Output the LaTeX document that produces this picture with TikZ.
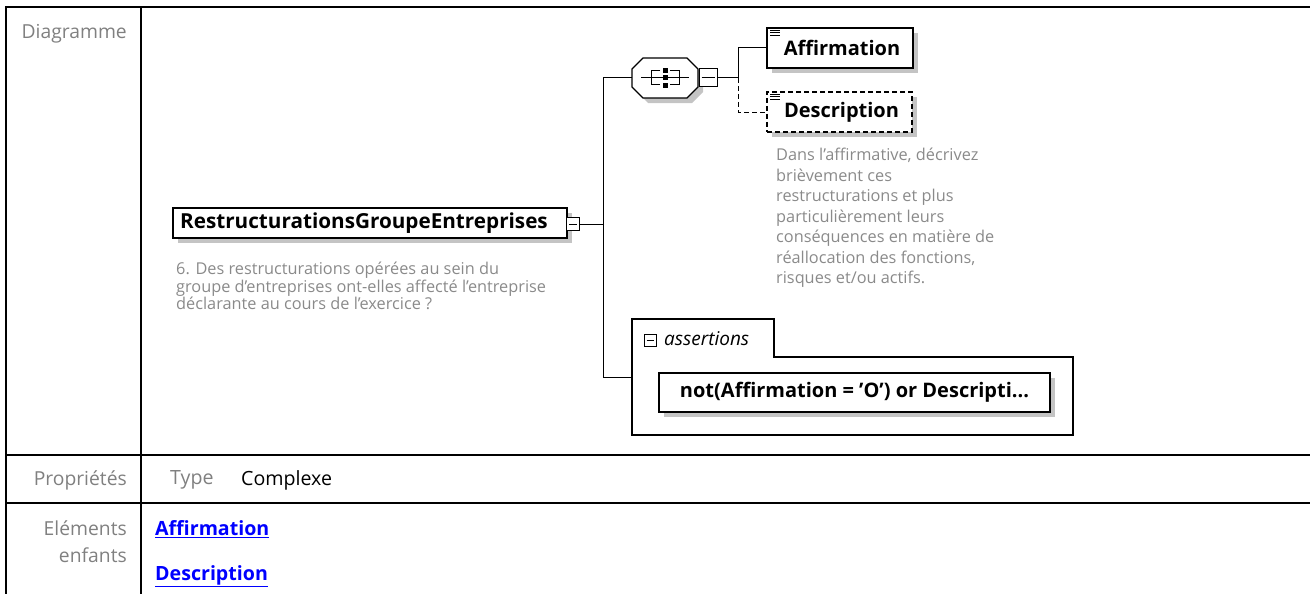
\documentclass[tikz,border=0pt]{standalone}
\usepackage{fontspec}
\setmainfont{Open Sans}
\usetikzlibrary{shadows}

\definecolor{labelgray}{HTML}{808080}
\definecolor{notegray}{HTML}{8A8A8A}
\definecolor{shadowgray}{HTML}{C4C4C4}
\definecolor{linkblue}{HTML}{0000FF}

\tikzset{
  grid line/.style={line width=2pt},
  conn/.style={line width=1pt},
  optdash/.style={dash pattern=on 5pt off 3pt},
  elembox/.style={draw,line width=1.2pt,fill=white,inner sep=0pt,
    font=\fontsize{20}{22}\selectfont\bfseries,
    drop shadow={shadow xshift=5pt,shadow yshift=-5pt,fill=shadowgray,opacity=1}},
  togglebox/.style={draw,line width=1pt,fill=white,inner sep=0pt,minimum width=#1,minimum height=#1,
    path picture={\draw[line width=1pt] ([xshift=2.5pt]path picture bounding box.west)
      -- ([xshift=-2.5pt]path picture bounding box.east);}},
  note/.style={anchor=north west,align=left,inner sep=0pt,text=notegray,
    font=\fontsize{16.3}{16}\selectfont},
  rowlabel/.style={anchor=east,align=right,inner sep=0pt,text=labelgray,
    font=\fontsize{19.3}{27}\selectfont},
  childlink/.style={anchor=west,inner sep=0pt,text=linkblue,
    font=\fontsize{19.6}{22}\selectfont\bfseries}
}

\begin{document}
\begin{tikzpicture}[x=1pt,y=-1pt]

\useasboundingbox (0,0) rectangle (1310,594);

%====================================================
% Table frame
%====================================================
\draw[grid line] (6,594)--(6,7)--(1310,7);
\draw[grid line] (141,7)--(141,594);
\draw[grid line] (6,455)--(1310,455);
\draw[grid line] (6,503)--(1310,503);

\node[rowlabel] (lbldiag) at (127,34) {Diagramme};
\node[rowlabel] (lblprop) at (127,480) {Propriétés};
\node[rowlabel] (lblchild) at (127,542) {Eléments\\enfants};

%====================================================
% Root element
%====================================================
\node[elembox,minimum width=394pt,minimum height=30pt,
  font=\fontsize{20.7}{22}\selectfont\bfseries] (root) at (370,223)
  {RestructurationsGroupeEntreprises\hspace*{12pt}};
\node[togglebox=13pt] (roottog) at (573,224) {};

\node[note] (rootnote) at (176,262)
  {6. Des restructurations opérées au sein du\\
   groupe d’entreprises ont-elles affecté l’entreprise\\
   déclarante au cours de l’exercice ?};

\coordinate (trunk) at (603,0);

%====================================================
% Sequence compositor
%====================================================
\node[minimum width=66pt,minimum height=40pt,inner sep=0pt] (seq) at (665,78) {};
\begin{scope}[shift={(seq.center)},line width=1pt]
% Octagon
\fill[shadowgray,shift={(5,5)}] (-22,-20)--(22,-20)--(33,-9)--(33,9)--(22,20)
  --(-22,20)--(-33,9)--(-33,-9)--cycle;
\draw[fill=white,line width=1.2pt] (-22,-20)--(22,-20)--(33,-9)--(33,9)--(22,20)
  --(-22,20)--(-33,9)--(-33,-9)--cycle;
% Icon
\draw (-24,0)--(24,0);
\draw (-5,-7)--(-14,-7)--(-14,7)--(-5,7);
\draw (5,-7)--(14,-7)--(14,7)--(5,7);
\fill (-2.5,-10) rectangle (2.5,-5);
\fill (-2.5,-2.5) rectangle (2.5,2.5);
\fill (-2.5,5) rectangle (2.5,10);
\end{scope}
\node[togglebox=18pt] (seqtog) at (708,78) {};

\coordinate (fork) at (738,0);

%====================================================
% Children
%====================================================
\node[elembox,minimum width=146pt,minimum height=40pt] (affirm) at (840,48)
  {\hspace*{4pt}Affirmation};
\node[elembox,optdash,minimum width=145pt,minimum height=40pt] (descr) at (839.5,112)
  {\hspace*{4pt}Description};

% small text icons
\foreach \n in {affirm,descr}{
  \foreach \dy in {3,5.5,8}
    \draw[line width=0.8pt] ([shift={(4,\dy)}]\n.north west)--++(10,0);
}

\node[note,font=\fontsize{16.3}{20.5}\selectfont] (descrnote) at (776,148)
  {Dans l’affirmative, décrivez\\
   brièvement ces\\
   restructurations et plus\\
   particulièrement leurs\\
   conséquences en matière de\\
   réallocation des fonctions,\\
   risques et/ou actifs.};

%====================================================
% Assertions
%====================================================
\draw[line width=1.2pt] (632,319)--(774,319)--(774,357)--(1073,357)
  --(1073,435)--(632,435)--cycle;
\coordinate (asrtin) at (632,377);
\node[togglebox=12pt] (asrttog) at (650,340) {};
\node[anchor=west,inner sep=0pt,font=\fontsize{19}{22}\selectfont\itshape] (asrtlbl)
  at (664,339) {assertions};
\node[elembox,minimum width=391pt,minimum height=39pt] (asrtrule) at (854.5,392.5)
  {not(Affirmation = 'O') or Descripti...};

%====================================================
% Connectors
%====================================================
\draw[conn] (roottog.east)--(roottog.east -| trunk);
\draw[conn] (seq.west -| trunk)--(seq.west);
\draw[conn] (seq.west -| trunk)--(asrtin -| trunk)--(asrtin);
\draw[conn] (seqtog.east)--(seqtog.east -| fork);
\draw[conn] (seqtog.east -| fork) |- (affirm.west);
\draw[conn,optdash] (seqtog.east -| fork) |- (descr.west);

%====================================================
% Properties and children rows
%====================================================
\node[anchor=west,inner sep=0pt,text=labelgray,font=\fontsize{19.6}{22}\selectfont]
  (proptype) at (170,480) {Type};
\node[anchor=west,inner sep=0pt,font=\fontsize{19.6}{22}\selectfont]
  (propval) at (241,480) {Complexe};

\node[childlink] (linkaffirm) at (155,529) {\underline{Affirmation}};
\node[childlink] (linkdescr) at (155,576) {\underline{Description}};

\end{tikzpicture}
\end{document}
